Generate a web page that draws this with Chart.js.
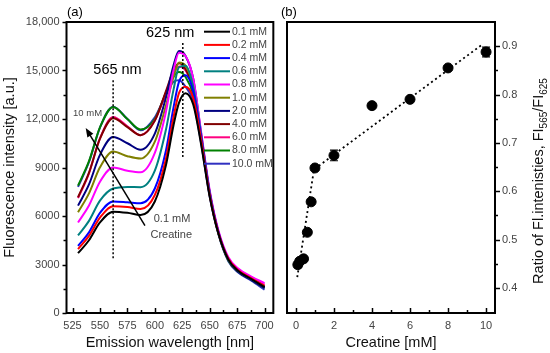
<!DOCTYPE html>
<html>
<head>
<meta charset="utf-8">
<script src="https://cdn.jsdelivr.net/npm/chart.js@4.4.1/dist/chart.umd.min.js"></script>
<style>
  html, body { margin: 0; padding: 0; background: #fff; }
  #wrap { position: relative; width: 550px; height: 353px; }
  #chartA { position: absolute; left: 0; top: 0; }
  #chartB { position: absolute; left: 280px; top: 0; }
</style>
</head>
<body>
<div id="wrap">
  <canvas id="chartA" width="280" height="353"></canvas>
  <canvas id="chartB" width="270" height="353"></canvas>
</div>
<script>
// ---- (a) emission spectra ----
const wavelengths = [530, 540, 550, 562, 575, 587, 600, 610, 617, 622, 628, 635, 642, 650, 658, 667, 676, 688, 700];
const concLabels = ["0.1 mM", "0.2 mM", "0.4 mM", "0.6 mM", "0.8 mM", "1.0 mM", "2.0 mM", "4.0 mM", "6.0 mM", "8.0 mM", "10.0 mM"];
const curveColors = ["#000000", "#ff0000", "#0000ff", "#008080", "#ff00ff", "#808000", "#000080", "#800000", "#ff0080", "#008000", "#3030c0"];

const fl01 = [3700, 4500, 5600, 6270, 6200, 6060, 6900, 9100, 11600, 13000, 13600, 12900, 10500, 7200, 4900, 3300, 2600, 2100, 1600];
const fl02 = [3950, 4770, 5900, 6600, 6550, 6430, 7300, 9500, 12100, 13600, 14000, 13300, 10800, 7300, 4950, 3350, 2650, 2150, 1680];
const fl04 = [4150, 4990, 6190, 6900, 6850, 6790, 7700, 10000, 12700, 14300, 14700, 13700, 11000, 7400, 5000, 3350, 2600, 2100, 1620];
const fl06 = [4800, 5700, 6950, 7700, 7800, 7780, 8800, 11300, 13800, 15200, 15300, 14000, 11100, 7450, 4950, 3300, 2600, 2100, 1650];
const fl08 = [5600, 6650, 8120, 9000, 8800, 8700, 9900, 12400, 15000, 16100, 15900, 14500, 11300, 7600, 5100, 3450, 2750, 2250, 1850];
const fl10 = [6230, 7400, 9010, 9990, 9700, 9550, 10600, 12800, 14600, 15500, 15300, 14000, 11000, 7400, 4950, 3300, 2600, 2100, 1650];
const fl20 = [6640, 7950, 9780, 10880, 10500, 10100, 11100, 13300, 15300, 16200, 15900, 14500, 11200, 7500, 5000, 3300, 2550, 2050, 1550];
const fl40 = [7160, 8680, 10780, 12050, 11500, 11000, 11900, 13700, 15000, 15450, 15100, 13900, 11000, 7400, 4950, 3300, 2600, 2100, 1650];
const fl60 = [7100, 8640, 10800, 12120, 11550, 11000, 11900, 13600, 14800, 15250, 15000, 13900, 11000, 7450, 5000, 3400, 2700, 2200, 1750];
const fl80 = [7880, 9390, 11480, 12740, 12000, 11350, 12000, 13600, 14600, 14900, 14600, 13500, 10800, 7300, 4900, 3250, 2550, 2050, 1550];
const fl100 = [7800, 9340, 11470, 12760, 12000, 11300, 12100, 13500, 14300, 14400, 14000, 13100, 10600, 7200, 4850, 3200, 2500, 2000, 1450];
const spectra = [fl01, fl02, fl04, fl06, fl08, fl10, fl20, fl40, fl60, fl80, fl100];

const waveTicks = [525, 550, 575, 600, 625, 650, 675, 700];
const waveMinor = [537.5, 562.5, 587.5, 612.5, 637.5, 662.5, 687.5];
const intensityTicks = [0, 3000, 6000, 9000, 12000, 15000, 18000];
const intensityMinor = [1500, 4500, 7500, 10500, 13500, 16500];

// dotted markers at the two emission maxima
const mark565 = [{ x: 562, y: 14400 }, { x: 562, y: 3350 }];
const mark625 = [{ x: 625.5, y: 16700 }, { x: 625.5, y: 9560 }];

// ---- (b) ratio vs creatine ----
const creatine = [0.1, 0.2, 0.4, 0.6, 0.8, 1.0, 2.0, 4.0, 6.0, 8.0, 10.0];
const ratio = [0.448, 0.455, 0.46, 0.515, 0.578, 0.648, 0.674, 0.777, 0.79, 0.855, 0.888];
const ratioErr = [0.006, 0.005, 0.004, 0.004, 0.004, 0.004, 0.011, 0.003, 0.004, 0.005, 0.01];
const fitX = [0.07, 0.95, 9.85];
const fitY = [0.422, 0.645, 0.905];
const creatineTicks = [0, 2, 4, 6, 8, 10];
const creatineMinor = [1, 3, 5, 7, 9];
const ratioTicks = [0.4, 0.5, 0.6, 0.7, 0.8, 0.9];
const ratioMinor = [0.45, 0.55, 0.65, 0.75, 0.85];

const family = "'Liberation Sans', Arial, sans-serif";
Chart.defaults.font.family = family;
Chart.defaults.color = "#444";
Chart.defaults.animation = false;

// frame + hand made tick marks (inward on x, outward on y)
function frameTicks(specs) {
  return {
    id: "frameTicks",
    afterDraw(chart) {
      const ctx = chart.ctx;
      const a = chart.chartArea;
      ctx.save();
      ctx.strokeStyle = "#000";
      ctx.lineWidth = 2;
      ctx.strokeRect(a.left, a.top, a.right - a.left, a.bottom - a.top);
      ctx.lineWidth = 1.5;
      specs.forEach((sp) => {
        const sc = chart.scales[sp.id];
        const draw = (vals, len) =>
          vals.forEach((v) => {
            const p = Math.round(sc.getPixelForValue(v)) + 0.5;
            ctx.beginPath();
            if (sp.side === "bottom") {
              ctx.moveTo(p, a.bottom);
              ctx.lineTo(p, a.bottom - len);
            } else if (sp.side === "left") {
              ctx.moveTo(a.left, p);
              ctx.lineTo(a.left - len, p);
            } else {
              ctx.moveTo(a.right, p);
              ctx.lineTo(a.right + len, p);
            }
            ctx.stroke();
          });
        draw(sp.major, sp.len);
        draw(sp.minor, sp.minorLen);
      });
      ctx.restore();
    },
  };
}

// legend, labels and arrow of panel (a)
const annotA = {
  id: "annotA",
  afterDraw(chart) {
    const ctx = chart.ctx;
    const xs = chart.scales.x;
    const ys = chart.scales.y;
    ctx.save();

    ctx.textBaseline = "middle";
    ctx.textAlign = "left";
    ctx.font = "10.5px " + family;
    concLabels.forEach((lab, i) => {
      const ly = 31.7 + i * 13.2;
      ctx.strokeStyle = curveColors[i];
      ctx.lineWidth = 2;
      ctx.beginPath();
      ctx.moveTo(204, ly);
      ctx.lineTo(230, ly);
      ctx.stroke();
      ctx.fillStyle = "#444";
      ctx.fillText(lab, 232, ly);
    });

    ctx.fillStyle = "#000";
    ctx.font = "13px " + family;
    ctx.fillText("(a)", 67, 12);

    ctx.textAlign = "center";
    ctx.font = "14.5px " + family;
    ctx.fillText("565 nm", xs.getPixelForValue(566), ys.getPixelForValue(15050));
    ctx.fillText("625 nm", xs.getPixelForValue(614), ys.getPixelForValue(17330));

    ctx.textAlign = "left";
    ctx.fillStyle = "#444";
    ctx.font = "9.5px " + family;
    ctx.fillText("10 mM", xs.getPixelForValue(525.5), ys.getPixelForValue(12350));
    ctx.font = "11px " + family;
    ctx.fillText("0.1 mM", xs.getPixelForValue(599), ys.getPixelForValue(5830));
    ctx.fillText("Creatine", xs.getPixelForValue(596), ys.getPixelForValue(4840));

    // arrow from 0.1 mM towards 10 mM
    const x0 = xs.getPixelForValue(591), y0 = ys.getPixelForValue(5400);
    const x1 = xs.getPixelForValue(537), y1 = ys.getPixelForValue(11450);
    const ang = Math.atan2(y1 - y0, x1 - x0);
    ctx.strokeStyle = "#000";
    ctx.fillStyle = "#000";
    ctx.lineWidth = 1.5;
    ctx.beginPath();
    ctx.moveTo(x0, y0);
    ctx.lineTo(x1 - 6 * Math.cos(ang), y1 - 6 * Math.sin(ang));
    ctx.stroke();
    ctx.beginPath();
    ctx.moveTo(x1, y1);
    ctx.lineTo(x1 - 9 * Math.cos(ang) + 3.5 * Math.sin(ang), y1 - 9 * Math.sin(ang) - 3.5 * Math.cos(ang));
    ctx.lineTo(x1 - 9 * Math.cos(ang) - 3.5 * Math.sin(ang), y1 - 9 * Math.sin(ang) + 3.5 * Math.cos(ang));
    ctx.closePath();
    ctx.fill();
    ctx.restore();
  },
};

const curveSets = spectra.map((vals, i) => ({
  label: concLabels[i],
  data: wavelengths.map((w, j) => ({ x: w, y: vals[j] })),
  borderColor: curveColors[i],
  borderWidth: 2,
  pointRadius: 0,
  cubicInterpolationMode: "monotone",
}));

const dotted = (pts) => ({
  data: pts,
  borderColor: "#000",
  borderWidth: 1.5,
  borderDash: [2, 2],
  pointRadius: 0,
  order: -1,
});

new Chart(document.getElementById("chartA"), {
  type: "line",
  data: { datasets: curveSets.concat([dotted(mark565), dotted(mark625)]) },
  options: {
    responsive: false,
    devicePixelRatio: 1,
    layout: { padding: { top: 22, right: 6.5, left: 0, bottom: 0 } },
    plugins: { legend: { display: false }, tooltip: { enabled: false } },
    scales: {
      x: {
        type: "linear",
        min: 519.5,
        max: 708,
        afterBuildTicks: (s) => { s.ticks = waveTicks.map((v) => ({ value: v })); },
        afterFit: (s) => { s.height = 40; },
        grid: { display: false, drawTicks: false },
        border: { display: false },
        ticks: { padding: 6, autoSkip: false, maxRotation: 0, font: { size: 11 }, callback: (v) => String(v) },
        title: { display: true, text: "Emission wavelength [nm]", color: "#111", font: { size: 14.5 }, padding: { top: 0, bottom: 1 } },
      },
      y: {
        min: 0,
        max: 18000,
        afterBuildTicks: (s) => { s.ticks = intensityTicks.map((v) => ({ value: v })); },
        afterFit: (s) => { s.width = 66.5; },
        grid: { display: false, drawTicks: false },
        border: { display: false },
        ticks: {
          padding: 7,
          autoSkip: false,
          font: { size: 11 },
          callback: (v) => (v >= 10000 ? v.toLocaleString("en-US") : String(v)),
        },
        title: { display: true, text: "Fluorescence intensity [a.u.]", color: "#111", font: { size: 14.5 }, padding: { top: 1, bottom: 0 } },
      },
    },
  },
  plugins: [
    frameTicks([
      { id: "x", side: "bottom", major: waveTicks, minor: waveMinor, len: 5, minorLen: 3 },
      { id: "y", side: "left", major: intensityTicks, minor: intensityMinor, len: 4, minorLen: 3 },
    ]),
    annotA,
  ],
});

// error bars, panel label and right axis title of panel (b)
const annotB = {
  id: "annotB",
  afterDatasetsDraw(chart) {
    const ctx = chart.ctx;
    const xs = chart.scales.x;
    const ys = chart.scales.y;
    ctx.save();
    ctx.strokeStyle = "#000";
    ctx.lineWidth = 1.2;
    creatine.forEach((c, i) => {
      const px = xs.getPixelForValue(c);
      const top = ys.getPixelForValue(ratio[i] + ratioErr[i]);
      const bot = ys.getPixelForValue(ratio[i] - ratioErr[i]);
      ctx.beginPath();
      ctx.moveTo(px, top); ctx.lineTo(px, bot);
      ctx.moveTo(px - 4, top); ctx.lineTo(px + 4, top);
      ctx.moveTo(px - 4, bot); ctx.lineTo(px + 4, bot);
      ctx.stroke();
    });
    ctx.restore();
  },
  afterDraw(chart) {
    const ctx = chart.ctx;
    ctx.save();
    ctx.fillStyle = "#000";
    ctx.textBaseline = "middle";
    ctx.font = "13px " + family;
    ctx.fillText("(b)", 1, 12);

    const parts = [
      ["Ratio of Fl.intenisties, FI", false],
      ["565", true],
      ["/FI", false],
      ["625", true],
    ];
    const big = "14.5px " + family;
    const small = "10px " + family;
    let w = 0;
    parts.forEach((p) => {
      ctx.font = p[1] ? small : big;
      w += ctx.measureText(p[0]).width;
    });
    ctx.translate(258, 181);
    ctx.rotate(-Math.PI / 2);
    ctx.fillStyle = "#111";
    ctx.textBaseline = "alphabetic";
    let cx = -w / 2;
    parts.forEach((p) => {
      ctx.font = p[1] ? small : big;
      ctx.fillText(p[0], cx, p[1] ? 8.5 : 5);
      cx += ctx.measureText(p[0]).width;
    });
    ctx.restore();
  },
};

new Chart(document.getElementById("chartB"), {
  type: "scatter",
  data: {
    datasets: [
      {
        data: creatine.map((c, i) => ({ x: c, y: ratio[i] })),
        backgroundColor: "#000",
        borderColor: "#000",
        pointRadius: 5,
        pointHoverRadius: 5,
      },
      {
        type: "line",
        data: fitX.map((v, i) => ({ x: v, y: fitY[i] })),
        borderColor: "#000",
        borderWidth: 1.8,
        borderDash: [2, 3],
        pointRadius: 0,
        tension: 0,
      },
    ],
  },
  options: {
    responsive: false,
    devicePixelRatio: 1,
    layout: { padding: { top: 22, right: 0, left: 7, bottom: 0 } },
    plugins: { legend: { display: false }, tooltip: { enabled: false } },
    scales: {
      x: {
        type: "linear",
        min: -0.47,
        max: 10.47,
        afterBuildTicks: (s) => { s.ticks = creatineTicks.map((v) => ({ value: v })); },
        afterFit: (s) => { s.height = 40; },
        grid: { display: false, drawTicks: false },
        border: { display: false },
        ticks: { padding: 6, autoSkip: false, maxRotation: 0, font: { size: 11 }, callback: (v) => String(v) },
        title: { display: true, text: "Creatine [mM]", color: "#111", font: { size: 14.5 }, padding: { top: 0, bottom: 1 } },
      },
      y: {
        position: "right",
        min: 0.348,
        max: 0.95,
        afterBuildTicks: (s) => { s.ticks = ratioTicks.map((v) => ({ value: v })); },
        afterFit: (s) => { s.width = 55; },
        grid: { display: false, drawTicks: false },
        border: { display: false },
        ticks: { padding: 7, autoSkip: false, font: { size: 11 }, callback: (v) => v.toFixed(1) },
        title: { display: false },
      },
    },
  },
  plugins: [
    frameTicks([
      { id: "x", side: "bottom", major: creatineTicks, minor: creatineMinor, len: 5, minorLen: 3 },
      { id: "y", side: "right", major: ratioTicks, minor: ratioMinor, len: 5, minorLen: 3 },
    ]),
    annotB,
  ],
});
</script>
</body>
</html>
